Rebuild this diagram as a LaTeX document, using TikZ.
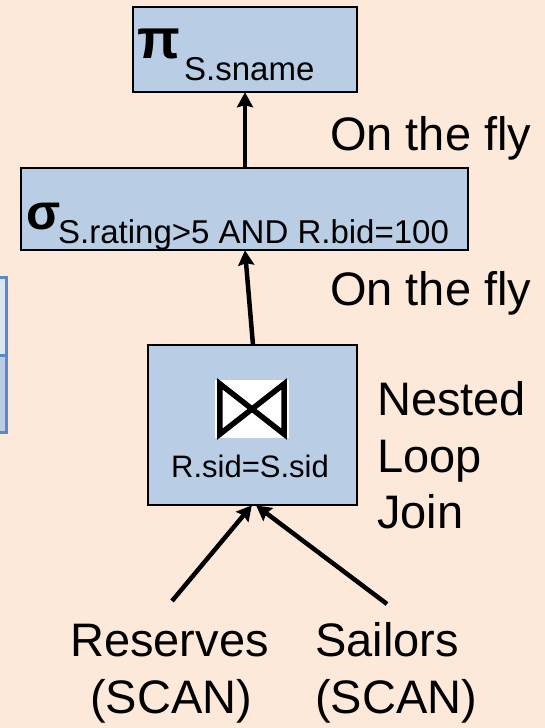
\documentclass[tikz,border=0pt]{standalone}
\usepackage{fontspec}
\setmainfont{Liberation Sans}
\usetikzlibrary{arrows.meta}
\definecolor{bgpeach}{RGB}{253,233,217}
\definecolor{boxblue}{RGB}{185,205,229}
\definecolor{cellpale}{RGB}{220,230,242}
\definecolor{cellline}{RGB}{88,138,200}
\newcommand{\fs}[1]{\fontsize{#1}{#1}\selectfont}
\tikzset{
  opbox/.style={draw=black, line width=1.5pt, fill=boxblue},
  flow/.style={line width=4.5pt, -{Stealth[length=15pt,width=16pt,inset=2pt]}, shorten >=-0.5pt},
  big/.style={inner sep=0pt, anchor=base west, font=\fs{47}},
  sub/.style={inner sep=0pt, anchor=base west, font=\fs{33}},
}
\begin{document}
\begin{tikzpicture}[x=1pt,y=-1pt]
\fill[bgpeach] (0,0) rectangle (545,728);
\useasboundingbox (0,0) rectangle (545,728);
% left table fragment
\fill[cellpale] (-5,277) rectangle (6,355);
\fill[boxblue] (-5,355) rectangle (6,432);
\draw[cellline, line width=3pt] (-5,277) -- (6,277) -- (6,432) -- (-5,432);
\draw[cellline, line width=3pt] (-5,355) -- (6,355);
% boxes
\node[opbox, minimum width=224pt, minimum height=85pt, inner sep=0pt] (pi) at (245,49.5) {};
\node[opbox, minimum width=447pt, minimum height=82pt, inner sep=0pt] (sig) at (244.5,209) {};
\node[opbox, minimum width=209pt, minimum height=160pt, inner sep=0pt] (join) at (252.5,425) {};
% pi label
\node[inner sep=0pt, anchor=base west, font=\fs{56}\bfseries] (pisym) at (137,58) {π};
\node[sub] (pisub) at (184,80) {S.sname};
% sigma label
\node[inner sep=0pt, anchor=base west, font=\fs{50}\bfseries] (sigsym) at (26,229) {σ};
\node[sub] (sigsub) at (58,243) {S.rating>5 AND R.bid=100};
% bowtie
\node[fill=white, minimum width=74pt, minimum height=58pt, inner sep=0pt] (bt) at (252,409) {};
\draw[line width=5.5pt, line join=miter] ([xshift=5pt,yshift=-4pt]bt.north west) -- ([xshift=5pt,yshift=4pt]bt.south west) -- (bt.center) -- cycle;
\draw[line width=5.5pt, line join=miter] ([xshift=-5pt,yshift=-4pt]bt.north east) -- ([xshift=-5pt,yshift=4pt]bt.south east) -- (bt.center) -- cycle;
\node[inner sep=0pt, anchor=base, font=\fs{31}] (cond) at (250,477) {R.sid=S.sid};
% side labels
\node[big] (fly1) at (330,150) {On the fly};
\node[big] (fly2) at (330,305) {On the fly};
\node[big] (nlj1) at (377,415) {Nested};
\node[big] (nlj2) at (377,472) {Loop};
\node[big] (nlj3) at (377,528) {Join};
% leaves
\node[big] (res) at (70,656) {Reserves};
\node[big] (resscan) at (90,713) {(SCAN)};
\node[big] (sai) at (315,656) {Sailors};
\node[big] (saiscan) at (315,713) {(SCAN)};
\coordinate (resend) at (172,601);
\coordinate (saiend) at (387,604);
\coordinate (jointop) at (253,345);
% arrows
\draw[flow] (sig.north -| pi.south) -- (pi.south);
\draw[flow] (jointop) -- ([xshift=0.5pt]sig.south);
\draw[flow] (resend) -- ([xshift=-1pt]join.south);
\draw[flow] (saiend) -- ([xshift=4pt]join.south);
\end{tikzpicture}
\end{document}
